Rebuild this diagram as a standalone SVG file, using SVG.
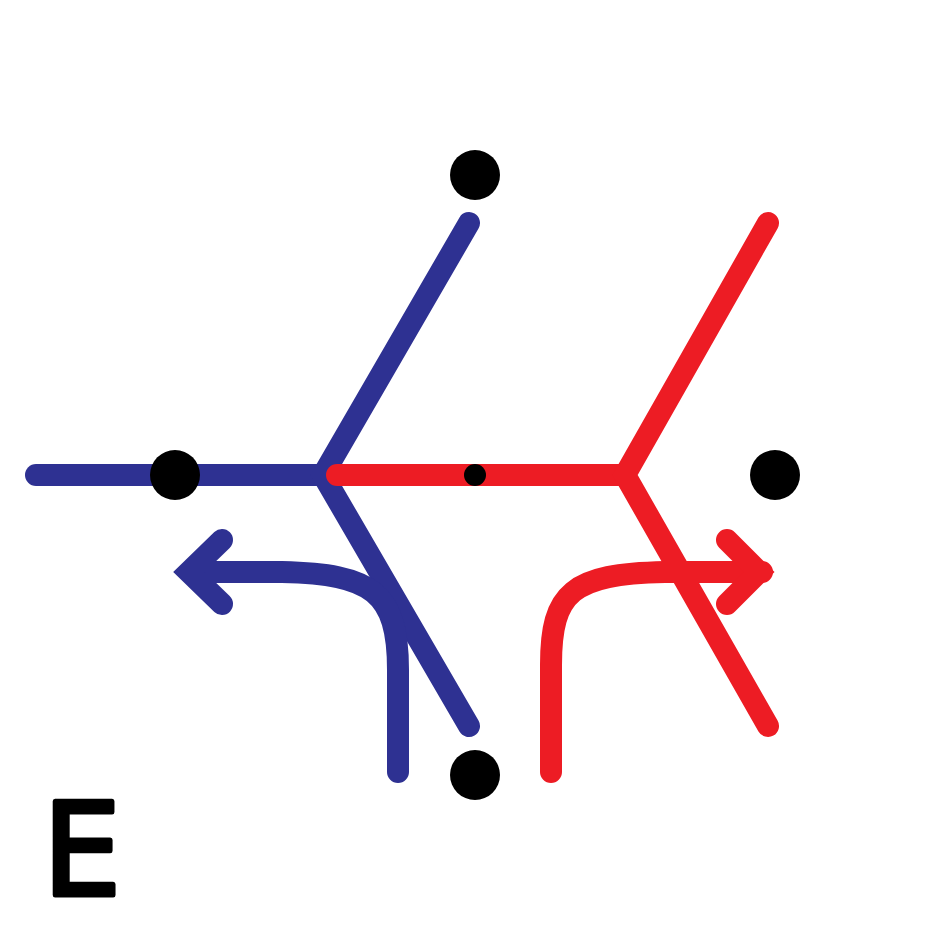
<svg xmlns="http://www.w3.org/2000/svg" width="950" height="950" viewBox="0 0 950 950">
<style>
.l{fill:none;stroke-width:22;stroke-linecap:round;stroke-linejoin:miter}
.b{stroke:#2e3192}
.r{stroke:#ed1c24}
.d{fill:#000}
</style>
<rect width="950" height="950" fill="#fff"/>
<g id="connectors">
<path class="l b" d="M36,475 L323,475"/>
<path class="l b" d="M469,223 L323,475 L469,726"/>
<path class="l r" d="M337,475 L625,475"/>
<path class="l r" d="M768,223 L625,475 L768,726"/>
<path class="l b" d="M398,772 L398,670 C398,592 372,574 282,572 L192,572"/>
<path class="l b" d="M222,540 L189,572 L222,604"/>
<path class="l r" d="M551,772 L551,665 C551,592 572,574 665,572 L762,572"/>
<path class="l r" d="M727,540 L759,572 L727,604"/>
</g>
<g id="n-top"><circle class="d" cx="475" cy="175" r="25"/></g>
<g id="n-left"><circle class="d" cx="175" cy="475" r="25"/></g>
<g id="n-right"><circle class="d" cx="775" cy="475" r="25"/></g>
<g id="n-bottom"><circle class="d" cx="475" cy="775" r="25"/></g>
<g id="n-center"><circle class="d" cx="475" cy="475" r="11"/></g>
<g id="label"><text x="43" y="895" font-family="'DejaVu Sans', sans-serif" font-size="128" textLength="78" lengthAdjust="spacingAndGlyphs" stroke="#000" stroke-width="5" stroke-linejoin="round">E</text></g>
</svg>
